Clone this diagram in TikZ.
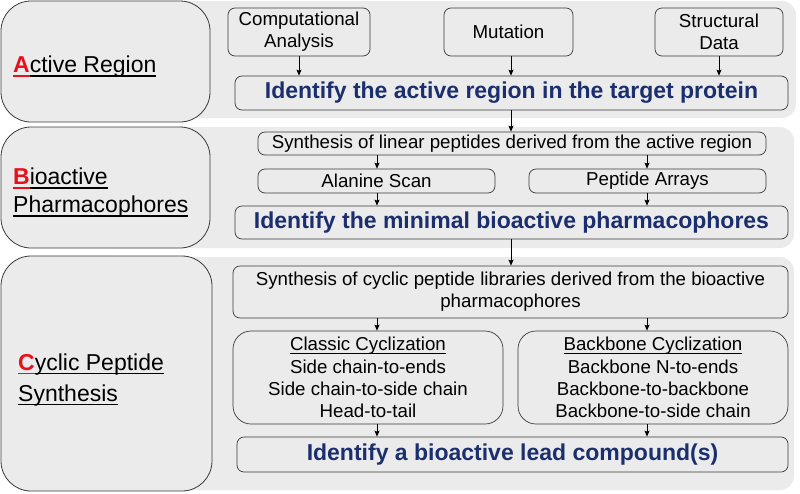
\documentclass[tikz,border=0pt]{standalone}
\usepackage{fontspec}
\setmainfont{Liberation Sans}
\usetikzlibrary{arrows.meta}
\definecolor{panel}{HTML}{EBEBEB}
\definecolor{navy}{HTML}{1B2F6E}
\definecolor{edge}{HTML}{3A3A3A}
\definecolor{redA}{HTML}{E8101A}
\newcommand{\myul}[1]{\setbox0\hbox{#1}\rlap{\rule[-0.16em]{\wd0}{0.055em}}\box0}
\begin{document}
\begin{tikzpicture}[x=1pt,y=-1pt,
  panelbox/.style={fill=panel, draw=none, rounded corners=14pt},
  sidebox/.style={draw=edge, fill=panel, rounded corners=30pt, line width=0.8pt, inner sep=0pt},
  ibox/.style={draw=edge, fill=panel, rounded corners=7pt, line width=0.7pt, inner sep=0pt, align=center,
    font=\fontsize{18.7}{22.3}\selectfont},
  cbox/.style={ibox, rounded corners=18pt},
  goal/.style={ibox, font=\fontsize{23}{27}\selectfont\bfseries, text=navy},
  sidelabel/.style={anchor=west, align=left, inner sep=0pt},
  arr/.style={-{Stealth[length=6pt,width=5pt,inset=1pt]}, line width=0.7pt, draw=black},
]
\useasboundingbox (0,0) rectangle (800,493);
% background bands
\path[panelbox] (100,1) rectangle (796,118);
\path[panelbox] (100,127) rectangle (794,248);
\path[panelbox] (100,257) rectangle (794,490);
% side boxes
\node[sidebox, minimum width=209pt, minimum height=121pt] (sA) at (105.5,61.5) {};
\node[sidebox, minimum width=209pt, minimum height=121pt] (sB) at (105.5,187.5) {};
\node[sidebox, minimum width=211pt, minimum height=235pt] (sC) at (106.5,373.5) {};
\node[sidelabel, font=\fontsize{23}{28}\selectfont] (lA) at (13,67) {\textcolor{redA}{\myul{\textbf{A}}}\myul{ctive Region}};
\node[sidelabel, font=\fontsize{23}{28}\selectfont] (lB) at (13,193) {\textcolor{redA}{\myul{\textbf{B}}}\myul{ioactive}\\\myul{Pharmacophores}};
\node[sidelabel, font=\fontsize{23}{31}\selectfont] (lC) at (18,380) {\textcolor{redA}{\myul{\textbf{C}}}\myul{yclic Peptide}\\\myul{Synthesis}};
% panel A
\node[ibox, minimum width=142pt, minimum height=48pt] (comp) at (299,32) {Computational\\Analysis};
\node[ibox, minimum width=129pt, minimum height=48pt] (mut) at (508.5,32) {Mutation};
\node[ibox, minimum width=128pt, minimum height=48pt] (struct) at (719,32) {Structural\\Data};
\node[goal, minimum width=553pt, minimum height=34pt] (idA) at (511.5,93) {Identify the active region in the target protein};
% panel B
\node[ibox, minimum width=508pt, minimum height=23pt] (linB) at (512,143.5) {Synthesis of linear peptides derived from the active region};
\node[ibox, minimum width=237pt, minimum height=24pt] (ala) at (376.5,181) {Alanine Scan};
\node[ibox, minimum width=237pt, minimum height=24pt] (pep) at (647.5,181) {Peptide Arrays};
\node[goal, minimum width=553pt, minimum height=33pt] (idB) at (511.5,222.5) {Identify the minimal bioactive pharmacophores};
% panel C
\node[ibox, minimum width=555pt, minimum height=52pt] (cyc) at (510.5,292) {Synthesis of cyclic peptide libraries derived from the bioactive\\pharmacophores};
\node[cbox, minimum width=270pt, minimum height=93pt] (classic) at (368,377.5) {\myul{Classic Cyclization}\\Side chain-to-ends\\Side chain-to-side chain\\Head-to-tail};
\node[cbox, minimum width=270pt, minimum height=93pt] (backbone) at (653,377.5) {\myul{Backbone Cyclization}\\Backbone N-to-ends\\Backbone-to-backbone\\Backbone-to-side chain};
\node[goal, minimum width=551pt, minimum height=35pt] (idC) at (512.5,454.5) {Identify a bioactive lead compound(s)};
% guide coordinates
\coordinate (xl) at (377,0);
\coordinate (xr) at (647,0);
\coordinate (xm) at (511,0);
% arrows
\draw[arr] (comp.south) -- (comp.south |- idA.north);
\draw[arr] (mut.south -| xm) -- (idA.north -| xm);
\draw[arr] (struct.south) -- (struct.south |- idA.north);
\draw[arr] (idA.south -| xm) -- (linB.north -| xm);
\draw[arr] (linB.south -| xl) -- (ala.north -| xl);
\draw[arr] (linB.south -| xr) -- (pep.north -| xr);
\draw[arr] (ala.south -| xl) -- (idB.north -| xl);
\draw[arr] (pep.south -| xr) -- (idB.north -| xr);
\draw[arr] (idB.south -| xm) -- (cyc.north -| xm);
\draw[arr] (cyc.south -| xl) -- (classic.north -| xl);
\draw[arr] (cyc.south -| xr) -- (backbone.north -| xr);
\draw[arr] (classic.south -| xl) -- (idC.north -| xl);
\draw[arr] (backbone.south -| xr) -- (idC.north -| xr);
\end{tikzpicture}
\end{document}
